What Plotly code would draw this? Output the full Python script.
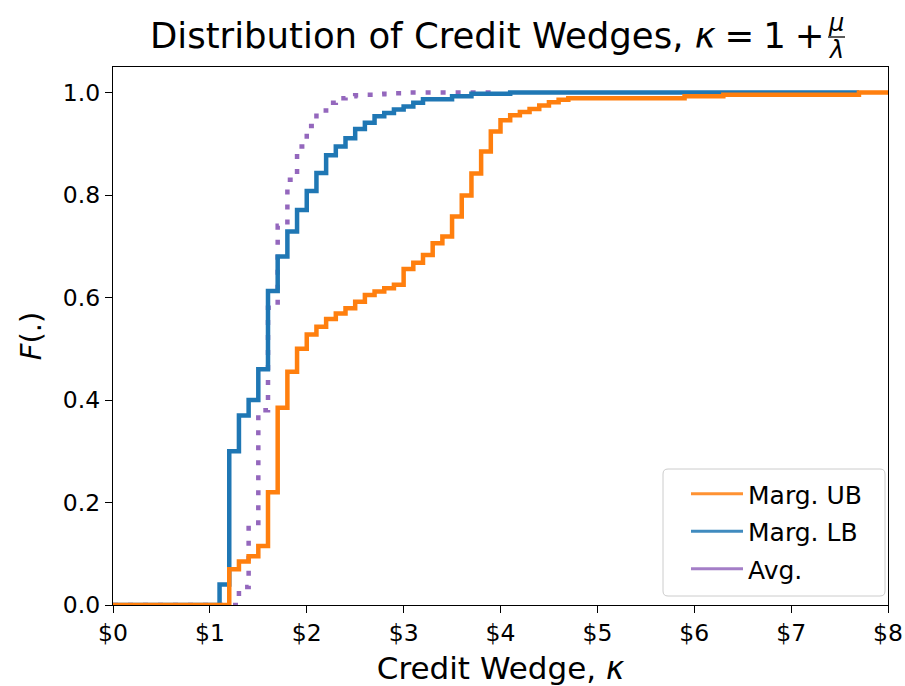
import plotly.graph_objects as go

# Credit-wedge grid (kappa), in steps of 0.1
KAPPA = [1.1, 1.2, 1.3, 1.4, 1.5, 1.6, 1.7, 1.8, 1.9, 2.0,
         2.1, 2.2, 2.3, 2.4, 2.5, 2.6, 2.7, 2.8, 2.9, 3.0,
         3.1, 3.2, 3.3, 3.4, 3.5, 3.6, 3.7, 3.8, 3.9, 4.0,
         4.1, 4.2, 4.3, 4.4, 4.5, 4.6, 4.7, 4.8, 4.9, 5.0,
         5.1, 5.2, 5.3, 5.4, 5.5, 5.6, 5.7, 5.8, 5.9, 6.0,
         6.1, 6.2, 6.3, 6.4, 6.5, 6.6, 6.7, 6.8, 6.9, 7.0,
         7.1, 7.2, 7.3, 7.4, 7.5, 7.6, 7.7, 7.8, 7.9, 8.0]

# Empirical CDF, marginal upper bound
MARG_UB = [0.000, 0.070, 0.085, 0.095, 0.115, 0.220, 0.385, 0.455, 0.500, 0.528,
           0.543, 0.558, 0.569, 0.579, 0.592, 0.605, 0.612, 0.618, 0.625, 0.656,
           0.668, 0.683, 0.706, 0.719, 0.758, 0.799, 0.842, 0.885, 0.924, 0.946,
           0.956, 0.962, 0.968, 0.975, 0.981, 0.986, 0.989, 0.989, 0.989, 0.989,
           0.989, 0.989, 0.989, 0.989, 0.989, 0.989, 0.989, 0.989, 0.993, 0.993,
           0.993, 0.993, 0.996, 0.996, 0.996, 0.996, 0.996, 0.996, 0.996, 0.996,
           0.996, 0.996, 0.996, 0.996, 0.996, 0.996, 1.000, 1.000, 1.000, 1.000]

# Empirical CDF, marginal lower bound (support ends at 7.7)
MARG_LB = [0.040, 0.300, 0.370, 0.400, 0.460, 0.613, 0.680, 0.729, 0.771, 0.808,
           0.843, 0.878, 0.895, 0.911, 0.929, 0.941, 0.954, 0.960, 0.967, 0.973,
           0.980, 0.987, 0.987, 0.987, 0.993, 0.993, 0.998, 0.998, 0.998, 0.998,
           1.000, 1.000, 1.000, 1.000, 1.000, 1.000, 1.000, 1.000, 1.000, 1.000,
           1.000, 1.000, 1.000, 1.000, 1.000, 1.000, 1.000, 1.000, 1.000, 1.000,
           1.000, 1.000, 1.000, 1.000, 1.000, 1.000, 1.000, 1.000, 1.000, 1.000,
           1.000, 1.000, 1.000, 1.000, 1.000, 1.000, 1.000]

# Empirical CDF, average wedge (support ends at 4.0)
AVG = [0.000, 0.000, 0.035, 0.160, 0.380, 0.580, 0.740, 0.830, 0.895, 0.935,
       0.965, 0.980, 0.989, 0.993, 0.995, 0.996, 0.997, 0.998, 0.999, 1.000,
       1.000, 1.000, 1.000, 1.000, 1.000, 1.000, 1.000, 1.000, 1.000, 1.000]

X_TICKS = [0, 1, 2, 3, 4, 5, 6, 7, 8]
X_TICK_TEXT = ["$0", "$1", "$2", "$3", "$4", "$5", "$6", "$7", "$8"]
Y_TICKS = [0.0, 0.2, 0.4, 0.6, 0.8, 1.0]
Y_TICK_TEXT = ["0.0", "0.2", "0.4", "0.6", "0.8", "1.0"]

ORANGE = "#ff7f0e"
BLUE = "#1f77b4"
PURPLE = "#9467bd"
FONT = "DejaVu Sans"
LW = 4.5

# plot-area geometry in pixels
W, H = 905, 686
L, R, T, B = 113, 17, 67, 81
PW, PH = W - L - R, H - T - B


def px_to_paper(px, py):
    return (px - L) / PW, (H - B - py) / PH


def ecdf_xy(values):
    # each curve starts flat at zero from kappa = 0
    return [0.0] + KAPPA[:len(values)], [0.0] + values


def rounded_box(px0, py0, px1, py1, r):
    # rounded rectangle path in paper coordinates
    x0, y0 = px_to_paper(px0, py1)
    x1, y1 = px_to_paper(px1, py0)
    rx, ry = r / PW, r / PH
    return (f"M {x0 + rx},{y0} L {x1 - rx},{y0} Q {x1},{y0} {x1},{y0 + ry} "
            f"L {x1},{y1 - ry} Q {x1},{y1} {x1 - rx},{y1} "
            f"L {x0 + rx},{y1} Q {x0},{y1} {x0},{y1 - ry} "
            f"L {x0},{y0 + ry} Q {x0},{y0} {x0 + rx},{y0} Z")


fig = go.Figure()

# drawing order: average (bottom), lower bound, upper bound (top)
x, y = ecdf_xy(AVG)
fig.add_trace(go.Scatter(x=x, y=y, mode="lines", line_shape="hv", showlegend=False,
                         line=dict(color=PURPLE, width=LW, dash="5px,10px")))
x, y = ecdf_xy(MARG_LB)
fig.add_trace(go.Scatter(x=x, y=y, mode="lines", line_shape="hv", showlegend=False,
                         line=dict(color=BLUE, width=LW)))
x, y = ecdf_xy(MARG_UB)
fig.add_trace(go.Scatter(x=x, y=y, mode="lines", line_shape="hv", showlegend=False,
                         line=dict(color=ORANGE, width=LW)))

# legend keys (solid lines for every series)
for name, color in [("Marg. UB", ORANGE), ("Marg. LB", BLUE), ("Avg.", PURPLE)]:
    fig.add_trace(go.Scatter(x=[None], y=[None], mode="lines", name=name,
                             legendgroup=name, opacity=0.85,
                             line=dict(color=color, width=3)))

axis_common = dict(
    showgrid=False, zeroline=False, showline=True, mirror=True, automargin=False,
    linecolor="black", linewidth=1.3, ticks="outside", ticklen=7,
    tickwidth=1.3, tickcolor="black",
    tickfont=dict(family=FONT, size=23.5, color="black"),
)

lx, ly = px_to_paper(686, 592)
fig.update_layout(
    width=W, height=H,
    margin=dict(l=L, r=R, t=T, b=B),
    paper_bgcolor="white", plot_bgcolor="white",
    font=dict(family=FONT, color="black"),
    title=dict(text="Distribution of Credit Wedges, <i>κ</i>\u2005=\u20051\u2005+",
               font=dict(family=FONT, size=35.5, color="black"),
               x=150 / W, xref="container", xanchor="left",
               y=1 - 36 / H, yref="container", yanchor="middle"),
    xaxis=dict(range=[0, 8], tickvals=X_TICKS, ticktext=X_TICK_TEXT,
               title=dict(text="Credit Wedge, <i>κ</i>",
                          font=dict(family=FONT, size=31, color="black"),
                          standoff=14),
               **axis_common),
    yaxis=dict(range=[0, 1.05], tickvals=Y_TICKS, ticktext=Y_TICK_TEXT,
               title=dict(text="<i>F</i>(.)",
                          font=dict(family=FONT, size=29, color="black"),
                          standoff=12),
               **axis_common),
    legend=dict(x=lx, xanchor="left", y=ly, yanchor="bottom",
                bgcolor="rgba(0,0,0,0)", borderwidth=0,
                font=dict(family=FONT, size=25, color="black"),
                tracegroupgap=2, itemwidth=52),
)

# legend frame
fig.add_shape(type="path", xref="paper", yref="paper", layer="above",
              path=rounded_box(663, 469, 885, 596, 5),
              fillcolor="rgba(255,255,255,0.8)",
              line=dict(color="#cccccc", width=1))

# stacked fraction mu / lambda completing the title
mx, my = px_to_paper(836, 23)
fig.add_annotation(text="<i>μ</i>", xref="paper", yref="paper", x=mx, y=my,
                   xanchor="center", yanchor="middle", showarrow=False,
                   font=dict(family=FONT, size=24, color="black"))
mx, my = px_to_paper(836, 50)
fig.add_annotation(text="<i>λ</i>", xref="paper", yref="paper", x=mx, y=my,
                   xanchor="center", yanchor="middle", showarrow=False,
                   font=dict(family=FONT, size=24, color="black"))
bx0, by = px_to_paper(828, 37)
bx1, _ = px_to_paper(845, 37)
fig.add_shape(type="line", xref="paper", yref="paper",
              x0=bx0, x1=bx1, y0=by, y1=by,
              line=dict(color="black", width=1.3))

fig.write_html("out.html")
